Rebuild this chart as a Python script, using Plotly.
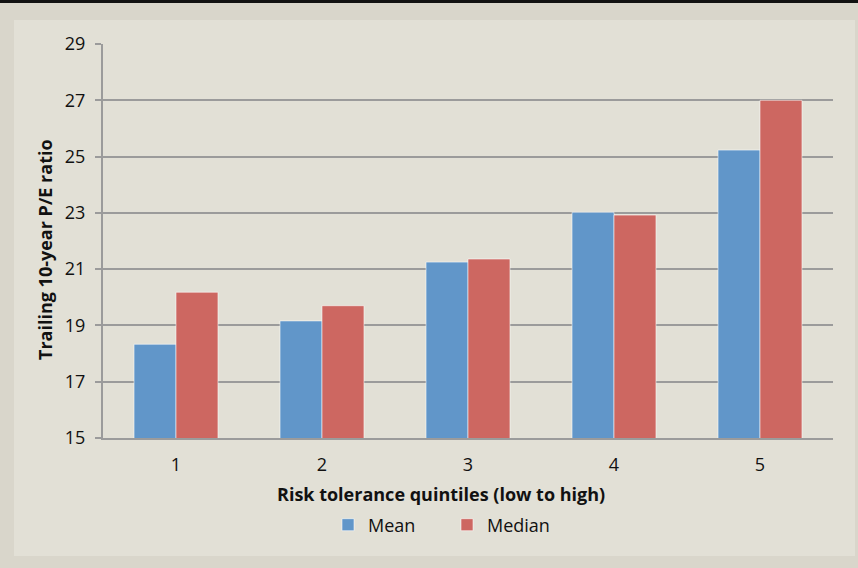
import plotly.graph_objects as go

# Risk tolerance quintiles and trailing 10-year P/E ratios
quintiles = ["1", "2", "3", "4", "5"]
mean_pe = [18.33, 19.16, 21.25, 23.02, 25.23]
median_pe = [20.18, 19.70, 21.36, 22.92, 27.00]
y_ticks = [15, 17, 19, 21, 23, 25, 27, 29]

W, H = 858, 568
L, R, T, B = 103, 25, 44, 130
pw, ph = W - L - R, H - T - B

FONT = "Open Sans"
BLUE = "#6196c9"
RED = "#cd6761"
GRID = "#9b9b9b"
OUTER = "#d9d6cb"
INNER = "#e2e0d6"


def px_x(x):
    return (x - L) / pw


def px_y(y):
    return (H - B - y) / ph


fig = go.Figure()
fig.add_trace(go.Bar(
    x=quintiles, y=mean_pe, name="Mean",
    marker=dict(color=BLUE, line=dict(color="rgba(255,255,255,0.55)", width=1)),
))
fig.add_trace(go.Bar(
    x=quintiles, y=median_pe, name="Median",
    marker=dict(color=RED, line=dict(color="rgba(255,255,255,0.55)", width=1)),
))

shapes = [
    # inner light panel
    dict(type="rect", xref="paper", yref="paper", layer="below",
         x0=px_x(14), x1=px_x(855), y0=px_y(556), y1=px_y(20),
         fillcolor=INNER, line=dict(width=0)),
    # dark rule across the top
    dict(type="rect", xref="paper", yref="paper", layer="above",
         x0=px_x(0), x1=px_x(W), y0=px_y(3), y1=px_y(0),
         fillcolor="#111111", line=dict(width=0)),
]

annotations = [
    dict(text="<b>Trailing 10-year P/E ratio</b>", xref="paper", yref="paper",
         x=px_x(45), y=px_y(250), textangle=-90, showarrow=False,
         font=dict(family=FONT, size=18, color="#111111"),
         xanchor="center", yanchor="middle"),
    dict(text="<b>Risk tolerance quintiles (low to high)</b>", xref="paper", yref="paper",
         x=px_x(441), y=px_y(494), showarrow=False,
         font=dict(family=FONT, size=18, color="#111111"),
         xanchor="center", yanchor="middle"),
]

fig.update_layout(
    width=W, height=H,
    margin=dict(l=L, r=R, t=T, b=B),
    paper_bgcolor=OUTER,
    plot_bgcolor="white",
    barmode="group",
    bargap=0.425,
    bargroupgap=0,
    font=dict(family=FONT, size=18, color="#111111"),
    shapes=shapes,
    annotations=annotations,
    showlegend=True,
    legend=dict(
        orientation="h", x=px_x(328), y=px_y(525),
        xanchor="left", yanchor="middle",
        bgcolor="rgba(0,0,0,0)", font=dict(family=FONT, size=18, color="#111111"),
        entrywidth=74, entrywidthmode="pixels",
    ),
    xaxis=dict(
        showgrid=False, showline=True, linecolor=GRID, linewidth=2,
        ticks="outside", ticklen=9, tickcolor="rgba(0,0,0,0)",
        tickfont=dict(family=FONT, size=18, color="#111111"),
        fixedrange=True,
    ),
    yaxis=dict(
        range=[15, 29], tickvals=y_ticks, ticktext=[str(v) for v in y_ticks],
        showgrid=True, gridcolor=GRID, gridwidth=2,
        showline=True, linecolor=GRID, linewidth=2,
        ticks="outside", ticklen=6, tickcolor=GRID, tickwidth=2,
        ticklabelstandoff=6,
        tickfont=dict(family=FONT, size=18, color="#111111"),
        zeroline=False, fixedrange=True,
    ),
)

fig.write_html("out.html", config=dict(displayModeBar=False))
